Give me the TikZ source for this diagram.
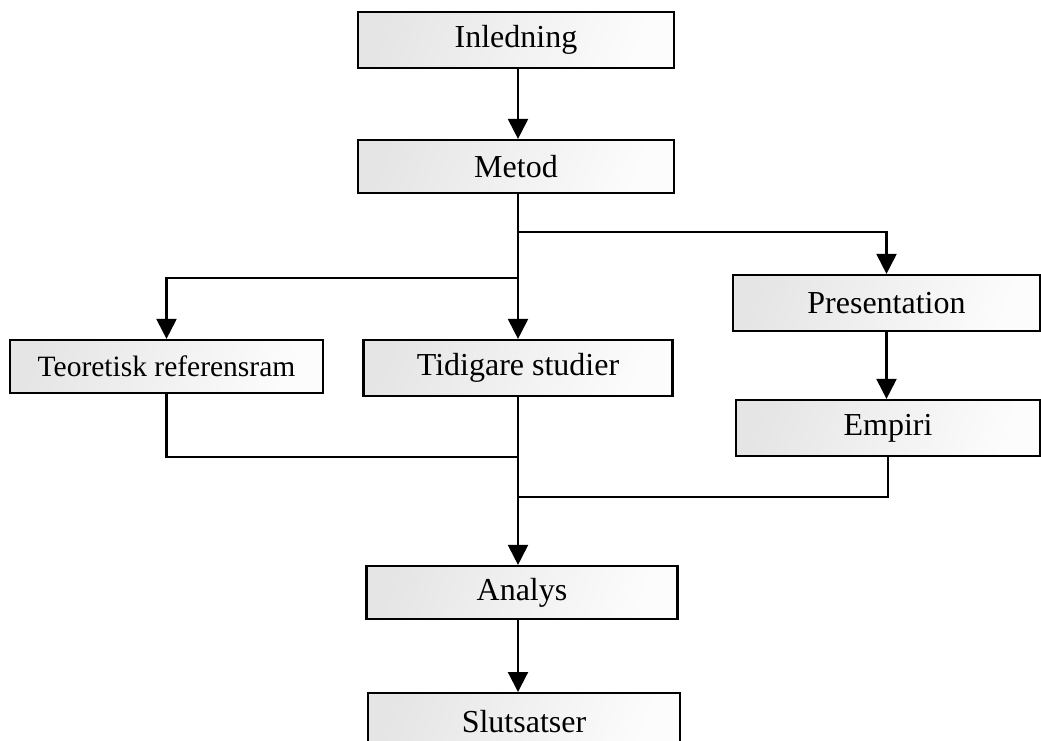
\documentclass[tikz,border=0pt]{standalone}
\usepackage{fontspec}
\setmainfont{Liberation Serif}
\usetikzlibrary{arrows.meta}
\begin{document}
\begin{tikzpicture}[x=1pt,y=-1pt,
  stage/.style={draw=black,line width=2.2pt,left color=black!10,right color=black!1,
    shading angle=70,inner sep=0pt,font=\fontsize{32}{38}\selectfont},
  link/.style={line width=2.1pt,draw=black},
  arr/.style={link,-{Triangle[width=20pt,length=20pt]}}]
\clip (0,0) rectangle (1041,740);
\useasboundingbox (0,0) rectangle (1041,740);
% boxes
\node[stage,minimum width=316pt,minimum height=56pt] (inl) at (516,40) {Inledning};
\node[stage,minimum width=316pt,minimum height=53pt] (metod) at (516,166.5) {Metod};
\node[stage,minimum width=307pt,minimum height=56pt] (pres) at (886.5,303) {Presentation};
\node[stage,minimum width=313pt,minimum height=53pt,font=\fontsize{29.5}{35}\selectfont] (teo) at (166.5,366.5) {Teoretisk referensram};
\node[stage,minimum width=309pt,minimum height=56pt] (tid) at (518,368) {Tidigare studier};
\node[stage,minimum width=304pt,minimum height=56pt] (emp) at (888,428) {Empiri};
\node[stage,minimum width=311pt,minimum height=53pt] (analys) at (522,592.5) {Analys};
\node[stage,minimum width=312pt,minimum height=56pt,anchor=north] (slut) at (524,692) {Slutsatser};
% junction points on the central spine
\coordinate (split1) at (518,232);
\coordinate (split2) at (518,278);
\coordinate (join1) at (518,457);
\coordinate (join2) at (518,497);
% connectors
\draw[arr] (inl.south -| split1) -- (metod.north -| split1);
\draw[arr] (metod.south -| split1) -- (tid.north -| split1);
\draw[arr] (split1) -| (pres.north);
\draw[arr] (split2) -| (teo.north);
\draw[arr] (pres.south) -- (pres.south |- emp.north);
\draw[link] (teo.south) |- (join1);
\draw[link] (emp.south) |- (join2);
\draw[arr] (tid.south -| split1) -- (analys.north -| split1);
\draw[arr] (analys.south -| split1) -- (slut.north -| split1);
\end{tikzpicture}
\end{document}
